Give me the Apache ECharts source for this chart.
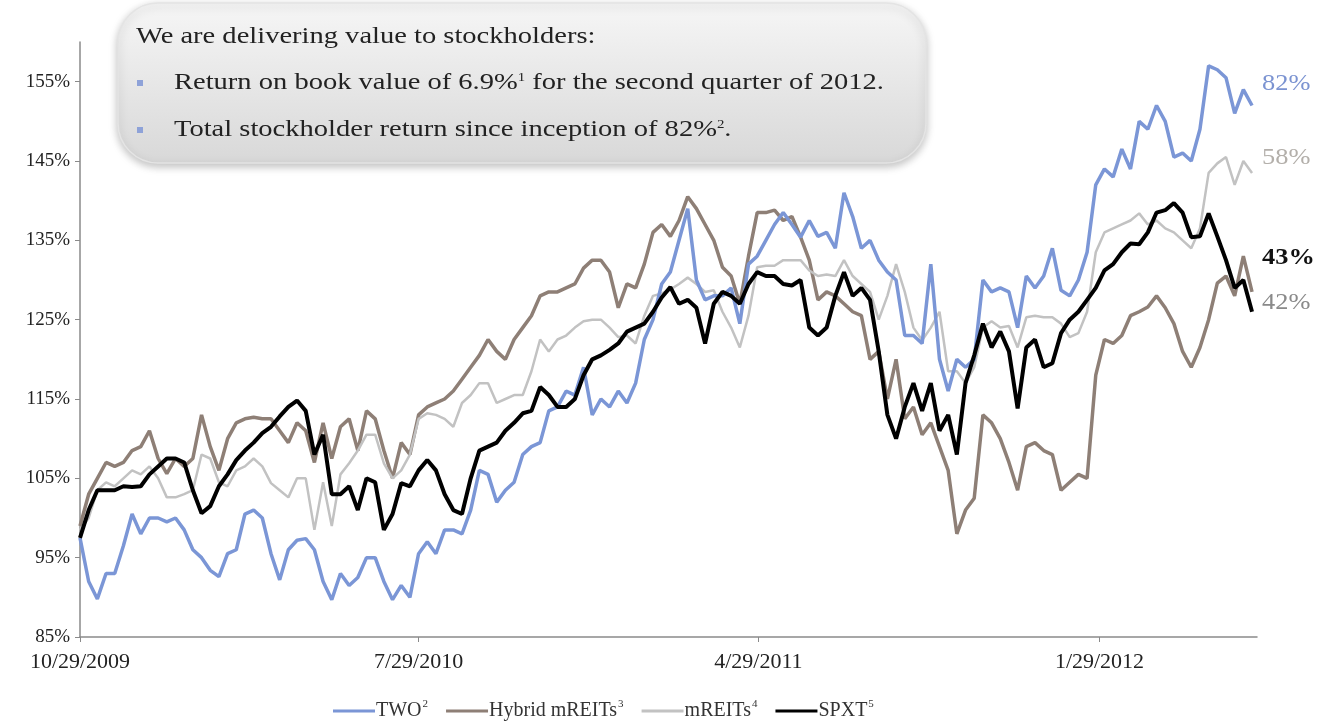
<!DOCTYPE html>
<html>
<head>
<meta charset="utf-8">
<title>Total stockholder return</title>
<script src="https://cdn.jsdelivr.net/npm/echarts@6/dist/echarts.min.js"></script>
<style>
  html, body { margin: 0; padding: 0; background: #fff; }
  #chart { width: 1332px; height: 723px; }
</style>
</head>
<body>
<div id="chart"></div>
<script>
// weekly closes, indexed to 100% at 10/29/2009
const seriesNames = ['TWO', 'Hybrid mREITs', 'mREITs', 'SPXT']
const footnotes = ['2', '3', '4', '5']
const xTickDates = [[2009, 9, 29], [2010, 6, 29], [2011, 3, 29], [2012, 0, 29]]
const yTicks = [85, 95, 105, 115, 125, 135, 145, 155]
const endLabels = ['82%', '58%', '43%', '42%']

const two = [
  97.5, 92, 89.8, 93, 93, 96.5, 100.5, 98, 100, 100,
  99.5, 100, 98.5, 96, 95, 93.4, 92.6, 95.5, 96, 100.5,
  101, 100, 95.5, 92.2, 96, 97.2, 97.4, 96, 92, 89.7,
  93, 91.5, 92.5, 95, 95, 92, 89.7, 91.5, 90, 95.5,
  97, 95.5, 98.5, 98.5, 98, 101, 106, 105.5, 102, 103.5,
  104.5, 108, 109, 109.5, 113.5, 114, 116, 115.5, 119, 113,
  115, 114, 116, 114.5, 117, 122.5, 125, 129.5, 131, 135,
  139, 130, 127.5, 128, 128, 129, 124.5, 132, 133, 135,
  137, 138.5, 137, 135.4, 137.5, 135.5, 136, 134, 141, 138,
  134, 135, 132.5, 131, 130, 123, 123, 122, 132, 120,
  116, 120, 119, 120, 130, 128.5, 129, 128.5, 124, 130.5,
  129, 130.5, 134, 128.7, 128, 130, 133.5, 142, 144, 143,
  146.5, 144, 150, 149, 152, 150, 145.5, 146, 145, 149,
  157, 156.5, 155.5, 151, 154, 152
]
const hybrid = [
  99, 103, 105, 107, 106.5, 107, 108.5, 109, 111, 107.5,
  105.6, 107.5, 106.5, 107.5, 113, 109, 106, 110, 112, 112.5,
  112.7, 112.5, 112.5, 111, 109.5, 112, 111, 107, 112, 107.5,
  111.5, 112.5, 108.5, 113.5, 112.5, 108.5, 105, 109.5, 108, 113,
  114, 114.5, 115, 116, 117.5, 119, 120.5, 122.5, 121, 120,
  122.5, 124, 125.5, 128, 128.5, 128.5, 129, 129.5, 131.5, 132.5,
  132.5, 131, 126.5, 129.5, 129, 132, 136, 137, 135.5, 137.5,
  140.5, 139, 137, 135, 131.6, 130.5, 127, 133, 138.5, 138.5,
  138.8, 137.5, 138, 135.4, 132.5, 127.5, 128.5, 128, 127, 126,
  125.5, 120, 121, 115, 120, 112.5, 114, 110.5, 112, 109,
  106, 98, 101, 102.5, 113, 112, 110, 107, 103.5, 109,
  109.5, 108.5, 108, 103.5, 104.5, 105.5, 105, 118, 122.5, 122,
  123, 125.5, 126, 126.6, 128, 126.5, 124.5, 121, 119, 121.5,
  125, 129.6, 130.5, 128, 133, 128.5
]
const mreits = [
  98.5, 100, 103.5, 104.5, 104, 105, 106, 105.5, 106.5, 105,
  102.6, 102.6, 103, 103.5, 108, 107.5, 104.5, 104, 106, 106.5,
  107.5, 106.5, 104.4, 103.5, 102.6, 105, 105, 98.5, 104.5, 99,
  105.5, 106.9, 108.5, 110.5, 110.5, 106.9, 105, 106, 108, 112.5,
  113.2, 113, 112.5, 111.5, 114.5, 115.5, 117, 117, 114.5, 115,
  115.5, 115.5, 118.5, 122.5, 121, 122.5, 123, 124, 124.8, 125,
  125, 124, 122.8, 123, 122, 125.5, 128, 128.3, 128.8, 129.5,
  130.3, 129.5, 128.5, 128.7, 126, 124, 121.5, 125.5, 131.6, 131.8,
  131.8, 132.5, 132.5, 132.5, 131.2, 130.5, 130.7, 130.5, 132.5, 130.5,
  129.5, 128.5, 125, 128, 132, 128.5, 124, 122.4, 124, 126,
  118.5, 118.5, 117, 119, 124, 124.8, 124, 124.2, 121.5, 125.3,
  125.5, 125.3, 125.3, 124.5, 122.8, 123.3, 126, 133.5, 136, 136.5,
  137, 137.5, 138.4, 137, 137.5, 136.5, 136, 135, 134, 136.5,
  143.5, 144.7, 145.5, 142, 145, 143.5
]
const spxt = [
  97.5, 101, 103.5, 103.5, 103.5, 104, 103.9, 104, 105.5, 106.5,
  107.5, 107.5, 107, 103.5, 100.6, 101.5, 104, 105.5, 107.3, 108.5,
  109.5, 110.7, 111.5, 112.8, 114, 114.8, 113.5, 108, 110.5, 103,
  103, 104, 101, 105, 104.5, 98.5, 100.5, 104.4, 104, 106,
  107.3, 106, 103, 101, 100.5, 105, 108.5, 109, 109.5, 111,
  112, 113.2, 113.5, 116.5, 115.5, 114, 114, 115, 118, 120,
  120.5, 121.2, 122, 123.5, 124, 124.5, 126, 127.8, 129.1, 127,
  127.5, 126.5, 122, 127, 128.5, 128, 127, 129.5, 131, 130.5,
  130.5, 129.5, 129.3, 130, 124, 123, 124, 128, 131, 128,
  129, 127.5, 121, 113, 110, 114, 117, 113.5, 117, 111,
  113, 108, 117, 120.5, 124.5, 121.5, 123.5, 121, 113.8, 121.5,
  122.5, 119, 119.5, 123.3, 125, 126, 127.5, 129, 131.2, 132,
  133.5, 134.6, 134.5, 136, 138.5, 138.8, 139.7, 138.5, 135.4, 135.5,
  138.4, 135.5, 132.5, 129, 130, 126
]

const dates = two.map((_, i) => new Date(2009, 9, 29 + 7 * i).getTime())
const xTicks = xTickDates.map(d => new Date(d[0], d[1], d[2]).getTime())
const values = [two, hybrid, mreits, spxt]
const colors = ['#7b96d6', '#8e7f76', '#c2c2c2', '#000000']
const widths = [3.5, 3.5, 2.5, 4]
const zs = [4, 2, 3, 5]

const serif = "'Liberation Serif', 'DejaVu Serif', serif"
// the slide text is a wide Garamond; stretch Times-like text to match
const stretch = 1.24
const supRich = { s: { fontSize: 12, fontFamily: serif, fill: '#222', lineHeight: 12, verticalAlign: 'top' } }

const chart = echarts.init(document.getElementById('chart'))
chart.setOption({
  animation: false,
  color: colors,
  grid: { left: 80, right: 75, top: 42, bottom: 86 },
  xAxis: {
    type: 'value',
    min: xTicks[0],
    max: new Date(2012, 5, 4).getTime(),
    splitLine: { show: false },
    axisLine: { lineStyle: { color: '#8a8a8a', width: 1.5 } },
    axisTick: { show: true, customValues: xTicks, length: 5, lineStyle: { color: '#8a8a8a' } },
    axisLabel: {
      customValues: xTicks,
      color: '#222',
      fontFamily: serif,
      fontSize: 22,
      margin: 14,
      formatter: v => {
        const d = new Date(v)
        return (d.getMonth() + 1) + '/' + d.getDate() + '/' + d.getFullYear()
      }
    }
  },
  yAxis: {
    type: 'value',
    min: 85,
    max: 160,
    splitLine: { show: false },
    axisLine: { show: true, lineStyle: { color: '#8a8a8a', width: 1.5 } },
    axisTick: { show: true, customValues: yTicks, length: 5, lineStyle: { color: '#8a8a8a' } },
    axisLabel: {
      customValues: yTicks,
      color: '#222',
      fontFamily: serif,
      fontSize: 19,
      margin: 10,
      formatter: v => v + '%'
    }
  },
  legend: {
    left: 328,
    bottom: -3,
    icon: 'rect',
    itemWidth: 42,
    itemHeight: 3,
    itemGap: 18,
    data: seriesNames,
    formatter: name => '{t|' + name + '}{s|' + footnotes[seriesNames.indexOf(name)] + '}',
    textStyle: {
      color: '#333',
      fontFamily: serif,
      rich: {
        t: { fontSize: 20, fontFamily: serif, color: '#333', lineHeight: 24, padding: [0, 0, 0, -4] },
        s: { fontSize: 11, fontFamily: serif, color: '#333', lineHeight: 11, verticalAlign: 'top', padding: [0, 0, 0, 1] }
      }
    }
  },
  series: seriesNames.map((name, k) => ({
    name,
    type: 'line',
    showSymbol: false,
    z: zs[k],
    lineStyle: { color: colors[k], width: widths[k] },
    itemStyle: { color: colors[k] },
    data: dates.map((d, i) => [d, values[k][i]])
  })),
  graphic: [
    {
      type: 'group',
      z: 100,
      children: [
        {
          type: 'rect',
          shape: { x: 118, y: 3, width: 808, height: 160, r: 40 },
          style: {
            fill: new echarts.graphic.LinearGradient(0, 0, 0, 1, [
              { offset: 0, color: '#f6f6f6' },
              { offset: 1, color: '#d8d8d8' }
            ]),
            stroke: '#e4e4e4',
            lineWidth: 1.5,
            shadowBlur: 8,
            shadowOffsetY: 3,
            shadowColor: 'rgba(0,0,0,0.25)'
          }
        },
        {
          type: 'text',
          x: 136, y: 37, scaleX: stretch,
          style: { text: 'We are delivering value to stockholders:', fill: '#222', font: '23px ' + serif, verticalAlign: 'middle' }
        },
        { type: 'rect', shape: { x: 137, y: 80, width: 6, height: 6 }, style: { fill: '#8ea2d8' } },
        { type: 'rect', shape: { x: 137, y: 127, width: 6, height: 6 }, style: { fill: '#8ea2d8' } },
        {
          type: 'text',
          x: 174, y: 83, scaleX: stretch,
          style: {
            text: 'Return on book value of 6.9%{s|1} for the second quarter of 2012.',
            fill: '#222', font: '23px ' + serif, verticalAlign: 'middle', rich: supRich
          }
        },
        {
          type: 'text',
          x: 174, y: 130, scaleX: stretch,
          style: {
            text: 'Total stockholder return since inception of 82%{s|2}.',
            fill: '#222', font: '23px ' + serif, verticalAlign: 'middle', rich: supRich
          }
        }
      ]
    },
    { type: 'text', x: 1262, y: 84, scaleX: 1.1, style: { text: endLabels[0], fill: '#7b93d1', font: '24px ' + serif, verticalAlign: 'middle' } },
    { type: 'text', x: 1262, y: 158, scaleX: 1.1, style: { text: endLabels[1], fill: '#b3afaa', font: '24px ' + serif, verticalAlign: 'middle' } },
    { type: 'text', x: 1262, y: 258, scaleX: 1.1, style: { text: endLabels[2], fill: '#111', font: 'bold 24px ' + serif, verticalAlign: 'middle' } },
    { type: 'text', x: 1262, y: 303, scaleX: 1.1, style: { text: endLabels[3], fill: '#8a8a8a', font: '24px ' + serif, verticalAlign: 'middle' } }
  ]
})
</script>
</body>
</html>
